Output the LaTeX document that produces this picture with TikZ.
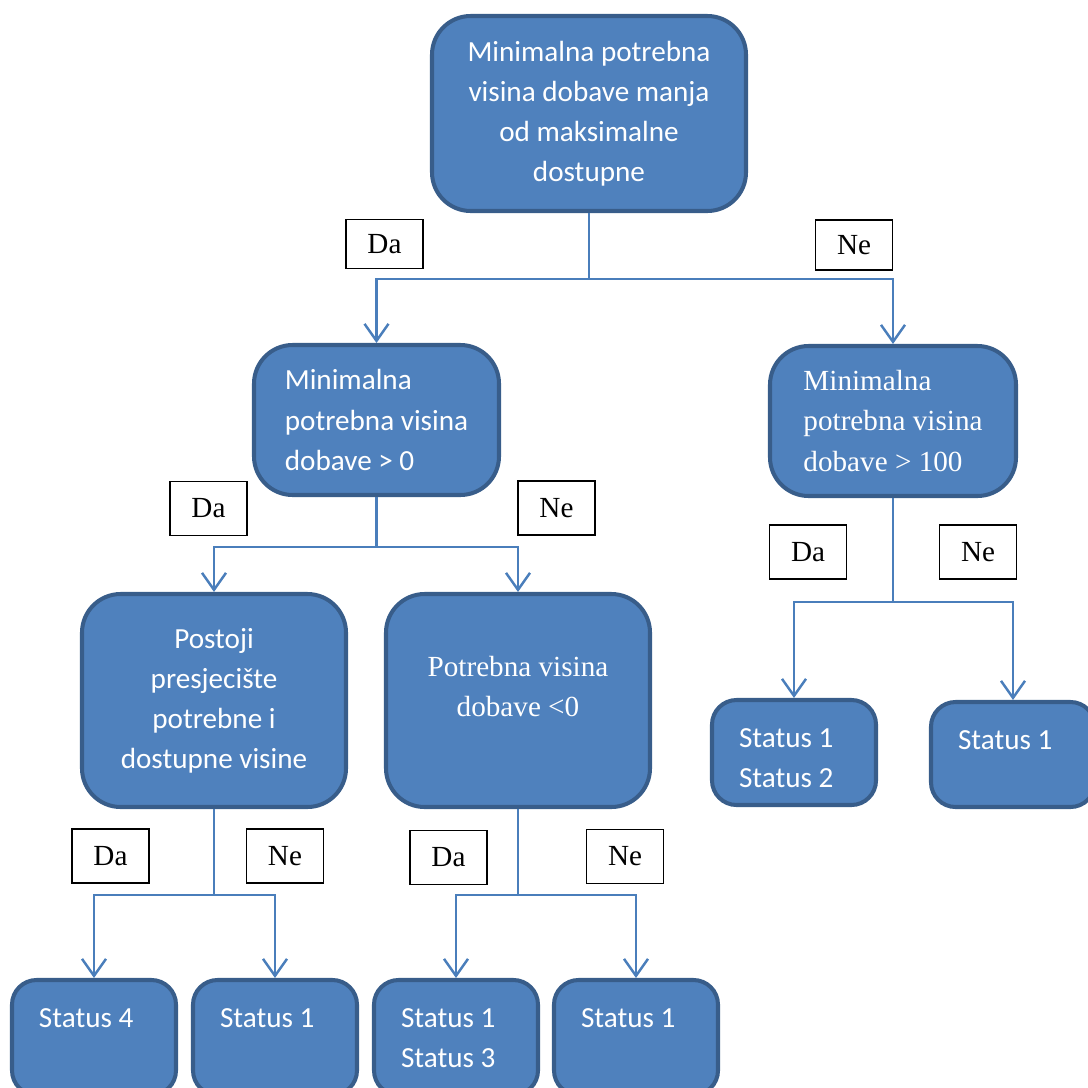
\documentclass[tikz,border=0pt]{standalone}
\usepackage{fontspec}
\setmainfont{Liberation Serif}
\newfontfamily\calibri{Carlito}
\usetikzlibrary{arrows.meta}
\definecolor{blokplava}{HTML}{4F81BD}
\definecolor{blokrub}{HTML}{385D8A}
\definecolor{vezaplava}{HTML}{4A7EBB}

\begin{document}
\begin{tikzpicture}[
    blok/.style={draw=blokrub, fill=blokplava, line width=1.15pt, rounded corners=11pt, text=white, inner sep=0pt},
    cal/.style={font=\calibri\fontsize{8.3}{11.4}\selectfont},
    tms/.style={font=\fontsize{8.3}{11.4}\selectfont},
    status/.style={blok, cal, rounded corners=7pt, minimum width=1.64cm, text width=1.10cm, align=flush left, text height=0.47cm, text depth=#1},
    oznaka/.style={draw=black, line width=0.5pt, fill=white, tms, minimum width=0.77cm, minimum height=0.54cm, inner sep=0pt},
    veza/.style={draw=vezaplava, line width=0.7pt, -{Straight Barb[length=0.17cm, width=0.24cm, line width=0.7pt]}}
]
    \useasboundingbox (0,0) rectangle (10.87,-10.88);

    \node[blok, cal, minimum width=3.14cm, minimum height=1.95cm, text width=2.9cm, align=flush center] (n1) at (5.89,-1.135) {Minimalna potrebna\\ visina dobave manja\\ od maksimalne\\ dostupne};

    \node[blok, cal, minimum width=2.45cm, minimum height=1.50cm, align=left] (n2) at (3.765,-4.20) {Minimalna\\ potrebna visina\\ dobave > 0};
    \node[blok, tms, minimum width=2.46cm, minimum height=1.50cm, align=left] (n3) at (8.93,-4.21) {Minimalna\\ potrebna visina\\ dobave > 100};

    \node[blok, cal, minimum width=2.64cm, minimum height=2.13cm, text width=2.4cm, align=flush center] (n4) at (2.14,-7.005) {Postoji\\ presjecište\\ potrebne i\\ dostupne visine};
    \node[blok, tms, minimum width=2.64cm, text width=2.4cm, align=flush center, text height=0.82cm, text depth=1.31cm] (n5) at (5.18,-7.005) {Potrebna visina\\ dobave <0};

    \node[status=0.58cm] (n6) at (7.94,-7.525) {Status 1\\ Status 2};
    \node[status=0.58cm] (n7) at (10.13,-7.545) {Status 1};

    \node[status=0.68cm] (n8) at (0.94,-10.375) {Status 4};
    \node[status=0.68cm] (n9) at (2.75,-10.375) {Status 1};
    \node[status=0.68cm] (n10) at (4.56,-10.375) {Status 1\\ Status 3};
    \node[status=0.68cm] (n11) at (6.36,-10.375) {Status 1};

    \node[oznaka, minimum height=0.49cm] (da1) at (3.845,-2.44) {Da};
    \node[oznaka, minimum height=0.50cm] (ne1) at (8.54,-2.45) {Ne};
    \node[oznaka] (da2) at (2.085,-5.085) {Da};
    \node[oznaka] (ne2) at (5.565,-5.08) {Ne};
    \node[oznaka] (da3) at (8.08,-5.52) {Da};
    \node[oznaka] (ne3) at (9.78,-5.52) {Ne};
    \node[oznaka] (da4) at (1.105,-8.56) {Da};
    \node[oznaka] (ne4) at (2.85,-8.56) {Ne};
    \node[oznaka] (da5) at (4.485,-8.575) {Da};
    \node[oznaka] (ne5) at (6.25,-8.565) {Ne};

    \draw[veza] (n1.south) -- ++(0,-0.66) -| (n2.north);
    \draw[veza] (n1.south) -- ++(0,-0.66) -| (n3.north);
    \draw[veza] (n2.south) -- ++(0,-0.50) -| (n4.north);
    \draw[veza] (n2.south) -- ++(0,-0.50) -| (n5.north);
    \draw[veza] (n3.south) -- ++(0,-1.04) -| (n6.north);
    \draw[veza] (n3.south) -- ++(0,-1.04) -| (n7.north);
    \draw[veza] (n4.south) -- ++(0,-0.86) -| (n8.north);
    \draw[veza] (n4.south) -- ++(0,-0.86) -| (n9.north);
    \draw[veza] (n5.south) -- ++(0,-0.86) -| (n10.north);
    \draw[veza] (n5.south) -- ++(0,-0.86) -| (n11.north);
\end{tikzpicture}
\end{document}
